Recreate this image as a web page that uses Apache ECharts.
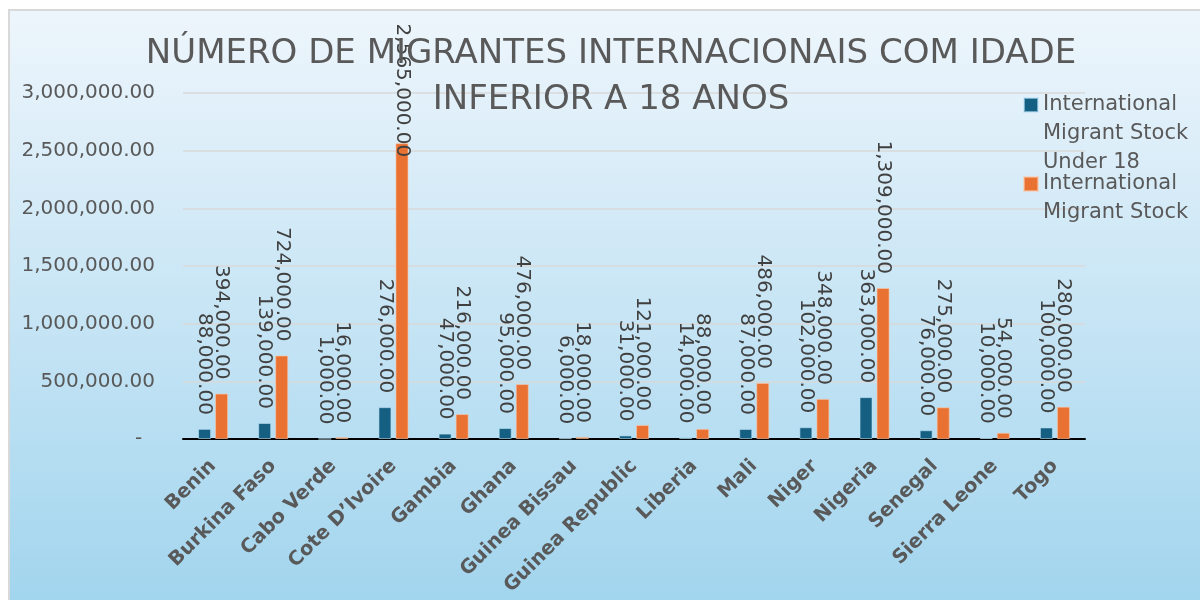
<!DOCTYPE html>
<html>
<head>
<meta charset="utf-8">
<script src="https://cdn.jsdelivr.net/npm/echarts@6/dist/echarts.min.js"></script>
<style>
html,body{margin:0;padding:0;background:#fff;}
#chart{width:1200px;height:600px;}
</style>
</head>
<body>
<div id="chart"></div>
<script>
const categories = ['Benin','Burkina Faso','Cabo Verde','Cote D’Ivoire','Gambia','Ghana','Guinea Bissau','Guinea Republic','Liberia','Mali','Niger','Nigeria','Senegal','Sierra Leone','Togo'];
const under18 = [88000,139000,1000,276000,47000,95000,6000,31000,14000,87000,102000,363000,76000,10000,100000];
const totalStock = [394000,724000,16000,2565000,216000,476000,18000,121000,88000,486000,348000,1309000,275000,54000,280000];
const seriesNames = ['International Migrant Stock Under 18','International Migrant Stock'];
// leading blank lines keep the first text line level with the legend square
const legendLabels = ['\n\nInternational\nMigrant Stock\nUnder 18','\nInternational\nMigrant Stock'];
const titleText = 'NÚMERO DE MIGRANTES INTERNACIONAIS COM IDADE\nINFERIOR A 18 ANOS';
const yTicks = {min:0, max:3000000, interval:500000};

function fmt(v){
  const s = Math.round(v).toString().replace(/\B(?=(\d{3})+(?!\d))/g, ',');
  return s + '.00';
}
const FONT = 'DejaVu Sans';
const labelBase = {
  show:true, position:'top', rotate:-90, align:'right', verticalAlign:'middle',
  distance:14, fontFamily:FONT, fontSize:20, color:'#404040',
  formatter:p=>fmt(p.value)
};
// tallest value's label is pulled down inside the plot, as in the reference
const maxTotal = Math.max(...totalStock);
const totalData = totalStock.map(v => v === maxTotal ? {value:v, label:{distance:-14}} : v);

const chart = echarts.init(document.getElementById('chart'), null, {renderer:'canvas'});
chart.setOption({
  backgroundColor:{type:'linear',x:0,y:0,x2:0,y2:1,colorStops:[{offset:0,color:'#eff6fc'},{offset:1,color:'#a2d5ee'}]},
  animation:false,
  textStyle:{fontFamily:FONT},
  title:{
    text:titleText, left:611, top:31, padding:0, textAlign:'center',
    textStyle:{fontFamily:FONT, fontSize:34, fontWeight:'normal', color:'#595959', lineHeight:46}
  },
  legend:[
    {data:[seriesNames[0]], left:1023, top:32.5, padding:0, orient:'vertical',
     icon:'rect', itemWidth:14, itemHeight:14, itemGap:0,
     formatter:()=>legendLabels[0],
     textStyle:{fontFamily:FONT, fontSize:21, color:'#595959', lineHeight:29}},
    {data:[seriesNames[1]], left:1023, top:140.5, padding:0, orient:'vertical',
     icon:'rect', itemWidth:14, itemHeight:14, itemGap:0,
     formatter:()=>legendLabels[1],
     textStyle:{fontFamily:FONT, fontSize:21, color:'#595959', lineHeight:29}}
  ],
  grid:{left:183, right:115, top:93, bottom:161, containLabel:false},
  xAxis:{
    type:'category', data:categories,
    axisLine:{show:true, lineStyle:{color:'#000', width:2}},
    axisTick:{show:false},
    axisLabel:{interval:0, rotate:45, margin:24, fontFamily:FONT, fontSize:19.5, fontWeight:'bold', color:'#595959'}
  },
  yAxis:{
    type:'value', min:yTicks.min, max:yTicks.max, interval:yTicks.interval,
    axisLine:{show:false}, axisTick:{show:false},
    splitLine:{lineStyle:{color:'#d9d9d9', width:1.5}},
    axisLabel:{margin:28, fontFamily:FONT, fontSize:20, color:'#595959',
      formatter:v=> v===0 ? '-  ' : fmt(v)}
  },
  series:[
    {name:seriesNames[0], type:'bar', data:under18, barWidth:13, barGap:'31%',
     itemStyle:{color:'#156082', borderColor:'rgba(190,225,245,0.6)', borderWidth:1},
     label:labelBase},
    {name:seriesNames[1], type:'bar', data:totalData, barWidth:13, barGap:'31%',
     itemStyle:{color:'#e97132', borderColor:'rgba(250,200,170,0.6)', borderWidth:1},
     label:labelBase}
  ],
  graphic:[
    {type:'rect', shape:{x:0,y:0,width:1200,height:9}, style:{fill:'#fff'}, silent:true, z:100},
    {type:'rect', shape:{x:0,y:0,width:8,height:600}, style:{fill:'#fff'}, silent:true, z:100},
    {type:'line', shape:{x1:8,y1:10,x2:1200,y2:10}, style:{stroke:'#d9d9d9', lineWidth:2}, silent:true, z:100},
    {type:'line', shape:{x1:9,y1:10,x2:9,y2:600}, style:{stroke:'#d9d9d9', lineWidth:2}, silent:true, z:100}
  ]
});
</script>
</body>
</html>
